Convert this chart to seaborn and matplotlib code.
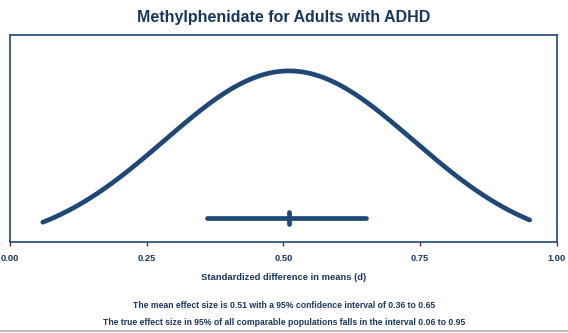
import numpy as np
import pandas as pd
import matplotlib
matplotlib.use("Agg")
import matplotlib.pyplot as plt
from matplotlib.lines import Line2D
import seaborn as sns

# Summary effect for methylphenidate in adults with ADHD
mean_effect = 0.51
ci_bounds = [0.36, 0.65]          # 95% confidence interval
pi_bounds = [0.06, 0.95]          # 95% prediction interval
x_ticks = [0.00, 0.25, 0.50, 0.75, 1.00]
x_tick_labels = ["0.00", "0.25", "0.50", "0.75", "1.00"]

navy = "#1f4877"
text_navy = "#17375e"

sns.set_theme(style="white")
plt.rcParams["font.family"] = ["Liberation Sans", "DejaVu Sans"]

# Distribution of true effects implied by the prediction interval
tau = (pi_bounds[1] - pi_bounds[0]) / 2 / 1.96
xs = np.linspace(pi_bounds[0], pi_bounds[1], 300)
dens = np.exp(-0.5 * ((xs - mean_effect) / tau) ** 2)
curve = pd.DataFrame({"d": xs, "density": dens})

fig = plt.figure(figsize=(5.68, 3.33), dpi=100)
ax = fig.add_axes([0.0176, 0.2733, 0.963, 0.6216])

sns.lineplot(data=curve, x="d", y="density", ax=ax, color=navy,
             linewidth=3.4, solid_capstyle="round")

# Confidence interval bar with the point estimate
ci_y = 0.163
ax.plot(ci_bounds, [ci_y, ci_y], color=navy, linewidth=3.4,
        solid_capstyle="round")
ax.plot([mean_effect, mean_effect], [ci_y - 0.033, ci_y + 0.033],
        color=navy, linewidth=3.4, solid_capstyle="round")

ax.set_xlim(0, 1)
ax.set_ylim(0.028, 1.204)
ax.set_yticks([])
ax.set_ylabel("")
ax.set_xticks(x_ticks)
ax.set_xticklabels(x_tick_labels, fontsize=6.7, fontweight="bold",
                   color=text_navy)
ax.tick_params(axis="x", direction="out", length=3, width=1,
               color="#8b1a1a", pad=6, bottom=True)
for s in ax.spines.values():
    s.set_color(navy)
    s.set_linewidth(1.2)

ax.set_xlabel("Standardized difference in means (d)", fontsize=6.75,
              fontweight="bold", color=text_navy, labelpad=7)

fig.text(0.5, 0.948, "Methylphenidate for Adults with ADHD",
         ha="center", va="center", fontsize=11.5, fontweight="bold",
         color=text_navy)
fig.text(0.5, 0.084,
         f"The mean effect size is {mean_effect:.2f} with a 95% confidence "
         f"interval of {ci_bounds[0]:.2f} to {ci_bounds[1]:.2f}",
         ha="center", va="center", fontsize=6.25, fontweight="bold",
         color=text_navy)
fig.text(0.5, 0.033,
         "The true effect size in 95% of all comparable populations falls "
         f"in the interval {pi_bounds[0]:.2f} to {pi_bounds[1]:.2f}",
         ha="center", va="center", fontsize=6.25, fontweight="bold",
         color=text_navy)

# Thin grey rule along the bottom edge
fig.add_artist(Line2D([0, 1], [0.006, 0.006], transform=fig.transFigure,
                      color="#b0b0b0", linewidth=1.2))

fig.savefig("out.png", dpi=100)
